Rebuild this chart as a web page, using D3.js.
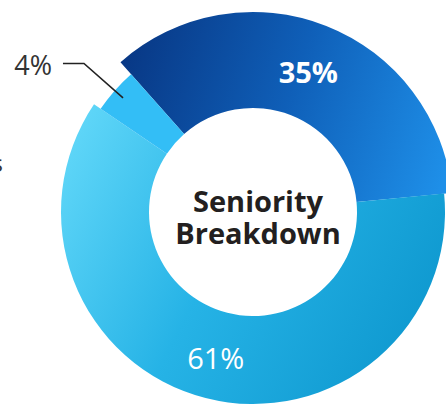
<!DOCTYPE html>
<html>
<head>
<meta charset="utf-8">
<script src="https://cdn.jsdelivr.net/npm/d3@7"></script>
<style>
  body { margin: 0; background: #fff; }
  svg { display: block; }
</style>
</head>
<body>
<div id="chart"></div>
<script>
// Slices, in drawing order (clockwise from the top-left)
var labels = ["35%", "61%", "4%"];
var values = [35, 61, 4];
var outerRadii = [200, 192, 184];
var titleLines = ["Seniority", "Breakdown"];

var width = 446, height = 407;
var cx = 253, cy = 212;
var innerRadius = 104;

var svg = d3.select("#chart")
    .append("svg")
    .attr("width", width)
    .attr("height", height);

var g = svg.append("g")
    .attr("transform", "translate(" + cx + "," + cy + ")");

// gradients for the slices (coordinates are relative to the donut centre)
var defs = svg.append("defs");
var g1 = defs.append("linearGradient")
    .attr("id", "gradDark")
    .attr("gradientUnits", "userSpaceOnUse")
    .attr("x1", -135).attr("y1", -150).attr("x2", 193).attr("y2", -40);
g1.append("stop").attr("offset", 0).attr("stop-color", "#083784");
g1.append("stop").attr("offset", 0.5).attr("stop-color", "#0f5fb8");
g1.append("stop").attr("offset", 1).attr("stop-color", "#1e8fe8");

var g2 = defs.append("linearGradient")
    .attr("id", "gradLight")
    .attr("gradientUnits", "userSpaceOnUse")
    .attr("x1", -185).attr("y1", -70).attr("x2", 180).attr("y2", 120);
g2.append("stop").attr("offset", 0).attr("stop-color", "#5fd6f8");
g2.append("stop").attr("offset", 0.45).attr("stop-color", "#26b3e6");
g2.append("stop").attr("offset", 1).attr("stop-color", "#0e98cf");

var fills = ["url(#gradDark)", "url(#gradLight)", "#33bef6"];

var startDeg = -41.5;
var pie = d3.pie()
    .value(function(d) { return d; })
    .sort(null)
    .startAngle(startDeg * Math.PI / 180)
    .endAngle((startDeg + 360) * Math.PI / 180);

var arcs = pie(values);

// draw slices
g.selectAll("path.slice")
    .data(arcs)
    .join("path")
    .attr("class", "slice")
    .attr("d", function(d, i) {
        return d3.arc().innerRadius(innerRadius).outerRadius(outerRadii[i])(d);
    })
    .attr("fill", function(d, i) { return fills[i]; });

// point on a circle at a d3 angle
function polar(a, r) {
    return [Math.sin(a) * r, -Math.cos(a) * r];
}

// inside labels for the two big slices
arcs.forEach(function(d, i) {
    if (i > 1) return;
    var mid = (d.startAngle + d.endAngle) / 2;
    var p = polar(mid, 151);
    g.append("text")
        .attr("x", p[0])
        .attr("y", p[1] + 11)
        .attr("text-anchor", "middle")
        .style("font-family", "'Open Sans', sans-serif")
        .style("font-size", "29px")
        .style("font-weight", i === 0 ? "bold" : "normal")
        .style("fill", "#fff")
        .text(labels[i]);
});

// outside label with leader line for the small slice
var small = arcs[2];
var midS = (small.startAngle + small.endAngle) / 2;
var p0 = polar(midS, 173);
var p1 = polar(midS, 225);
var p2 = [p1[0] - 21, p1[1]];
g.append("path")
    .attr("d", d3.line()([p0, p1, p2]))
    .attr("fill", "none")
    .attr("stroke", "#222")
    .attr("stroke-width", 1.6);
g.append("text")
    .attr("x", p2[0] - 11)
    .attr("y", p2[1] + 11)
    .attr("text-anchor", "end")
    .style("font-family", "'Open Sans', sans-serif")
    .style("font-size", "27px")
    .style("fill", "#333")
    .text(labels[2]);

// cut-off label at the left edge
svg.append("text")
    .attr("x", 3)
    .attr("y", 172)
    .attr("text-anchor", "end")
    .style("font-family", "'Open Sans', sans-serif")
    .style("font-size", "24px")
    .style("fill", "#333")
    .text("s");

// centre title
g.selectAll("text.title")
    .data(titleLines)
    .join("text")
    .attr("class", "title")
    .attr("x", 5)
    .attr("y", function(d, i) { return i * 32; })
    .attr("text-anchor", "middle")
    .style("font-family", "'Open Sans', sans-serif")
    .style("font-size", "29px")
    .style("font-weight", "bold")
    .style("fill", "#231f20")
    .text(function(d) { return d; });
</script>
</body>
</html>
